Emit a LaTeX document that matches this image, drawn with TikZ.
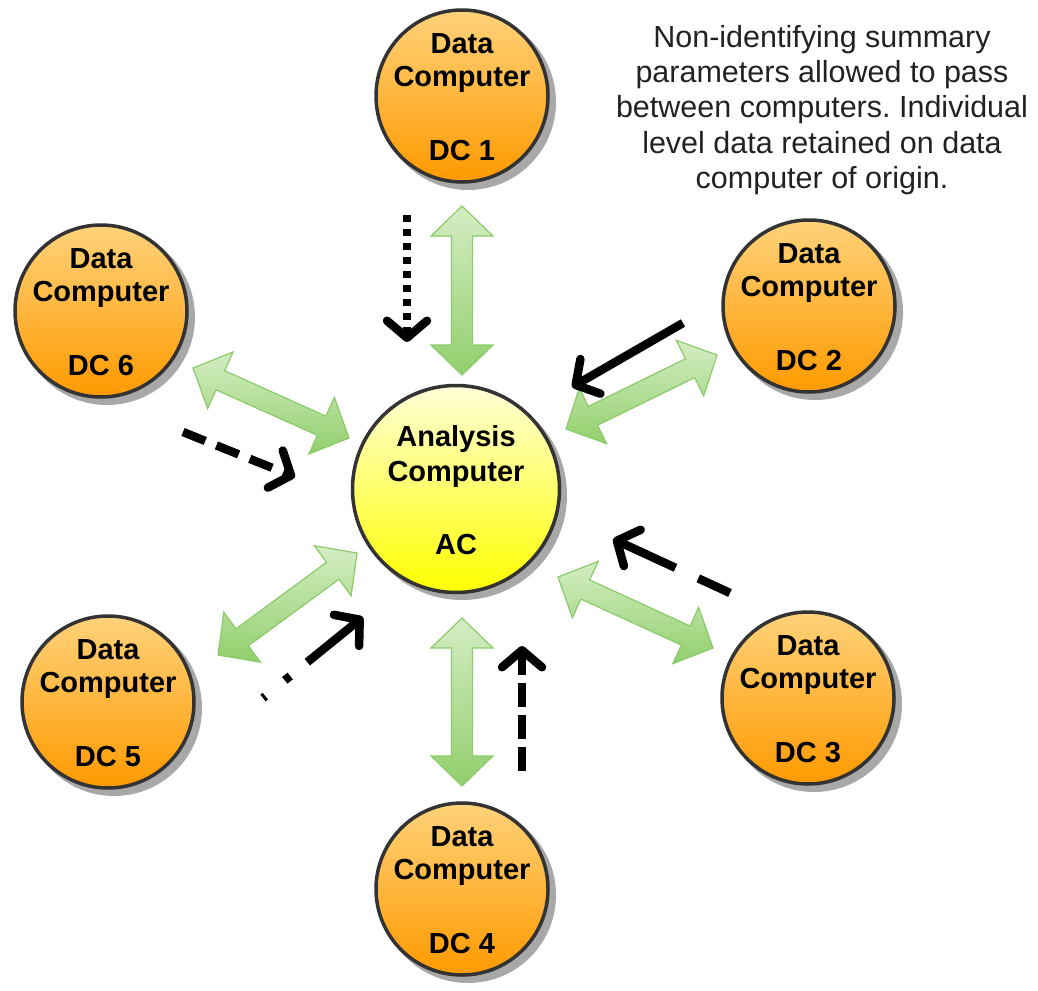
\documentclass[tikz,border=0pt]{standalone}
\usepackage{fontspec}
\setmainfont{Liberation Sans}
\usetikzlibrary{arrows.meta,calc}
\frenchspacing
\definecolor{orangeTop}{HTML}{FFD27A}
\definecolor{orangeBot}{HTML}{FF9A00}
\definecolor{yelTop}{HTML}{FFFFD8}
\definecolor{yelBot}{HTML}{FFFF00}
\definecolor{gLight}{HTML}{D4EDC4}
\definecolor{gDark}{HTML}{92CF6C}
\definecolor{gEdge}{HTML}{8CCB6A}
\definecolor{ringC}{HTML}{333333}
\definecolor{shadowC}{HTML}{A8A8A8}
\definecolor{noteC}{HTML}{222222}
\tikzset{
  dcnode/.style={circle, minimum size=172pt, draw=ringC, line width=3.5pt,
    top color=orangeTop, bottom color=orangeBot, inner sep=0pt},
  acnode/.style={circle, minimum size=207pt, draw=ringC, line width=3.5pt,
    top color=yelTop, bottom color=yelBot, inner sep=0pt},
  dclbl/.style={font=\bfseries\fontsize{29}{33}\selectfont, align=center, inner sep=0pt},
  aclbl/.style={font=\bfseries\fontsize{29}{35}\selectfont, align=center, inner sep=0pt},
  shadowsty/.style={fill=shadowC},
  garrowsty/.style={draw=gEdge, line width=1.2pt, top color=gLight, bottom color=gDark, line join=miter},
  blk/.style={line width=8.5pt, black, -{Straight Barb[length=17pt,width=40pt,round]}},
  notesty/.style={font=\fontsize{30.5}{35.25}\selectfont, align=center, text=noteC}
}
\newcommand\garrow[3]{%
  \coordinate (#1h1) at ($(#2)!30pt!(#3)$);
  \coordinate (#1h2) at ($(#3)!30pt!(#2)$);
  \path[garrowsty] (#2) -- ($(#1h1)!31pt!90:(#3)$) -- ($(#1h1)!10.5pt!90:(#3)$)
    -- ($(#1h2)!10.5pt!-90:(#2)$) -- ($(#1h2)!31pt!-90:(#2)$) -- (#3)
    -- ($(#1h2)!31pt!90:(#2)$) -- ($(#1h2)!10.5pt!90:(#2)$)
    -- ($(#1h1)!10.5pt!-90:(#3)$) -- ($(#1h1)!31pt!-90:(#3)$) -- cycle;
}
\begin{document}
\begin{tikzpicture}[x=1pt,y=-1pt]
\useasboundingbox (0,0) rectangle (1038,990);
% centres
\coordinate (c1) at (462,96);
\coordinate (c2) at (809,306);
\coordinate (c3) at (808,698);
\coordinate (c4) at (462,889);
\coordinate (c5) at (108,702);
\coordinate (c6) at (101,311);
\coordinate (cac) at (456,489);
% shadows
\foreach \c in {c1,c2,c3,c4,c5,c6}{\fill[shadowsty] ($(\c)+(6,6)$) circle[radius=88];}
\fill[shadowsty] ($(cac)+(6,6)$) circle[radius=105];
% circles
\node[dcnode] (dc1) at (c1) {};
\node[dcnode] (dc2) at (c2) {};
\node[dcnode] (dc3) at (c3) {};
\node[dcnode] (dc4) at (c4) {};
\node[dcnode] (dc5) at (c5) {};
\node[dcnode] (dc6) at (c6) {};
\node[acnode] (ac) at (cac) {};
% labels
\node[dclbl] (t1) at ($(c1)+(0,1)$) {Data\\Computer\\[41pt]DC 1};
\node[dclbl] (t2) at ($(c2)+(0,1)$) {Data\\Computer\\[41pt]DC 2};
\node[dclbl] (t3) at ($(c3)+(0,1)$) {Data\\Computer\\[41pt]DC 3};
\node[dclbl] (t4) at ($(c4)+(0,1)$) {Data\\Computer\\[41pt]DC 4};
\node[dclbl] (t5) at ($(c5)+(0,1)$) {Data\\Computer\\[41pt]DC 5};
\node[dclbl] (t6) at ($(c6)+(0,1)$) {Data\\Computer\\[41pt]DC 6};
\node[aclbl] (tac) at ($(cac)+(0,1)$) {Analysis\\Computer\\[38pt]AC};
% green double arrows
\coordinate (g1a) at (462,206); \coordinate (g1b) at (462,375);
\coordinate (g4a) at (462,618); \coordinate (g4b) at (462,786);
\coordinate (g2a) at (566,429); \coordinate (g2b) at (717,355);
\coordinate (g3a) at (558,577); \coordinate (g3b) at (713,648);
\coordinate (g5a) at (218,655); \coordinate (g5b) at (357,553);
\coordinate (g6a) at (193,368); \coordinate (g6b) at (349,438);
\garrow{ga1}{g1a}{g1b}
\garrow{ga4}{g4a}{g4b}
\garrow{ga2}{g2a}{g2b}
\garrow{ga3}{g3a}{g3b}
\garrow{ga5}{g5a}{g5b}
\garrow{ga6}{g6a}{g6b}
% black arrows
\coordinate (b1s) at (407,215); \coordinate (b1e) at (407,342);
\coordinate (b2s) at (683,323); \coordinate (b2e) at (572,387);
\coordinate (b3s) at (730,593); \coordinate (b3e) at (613,539);
\coordinate (b4s) at (522,771); \coordinate (b4e) at (522,646);
\coordinate (b5s) at (263,698); \coordinate (b5e) at (363,617);
\coordinate (b6s) at (183,432); \coordinate (b6e) at (295,477);
\draw[blk, dash pattern=on 7pt off 7pt] (b1s) -- (b1e);
\draw[blk] (b2s) -- (b2e);
\draw[blk, dash pattern=on 35pt off 25pt on 200pt] (b3s) -- (b3e);
\draw[blk, dash pattern=on 24pt off 8pt] (b4s) -- (b4e);
\draw[blk, dash pattern=on 3pt off 25pt on 7pt off 22pt on 200pt] (b5s) -- (b5e);
\draw[blk, dash pattern=on 24pt off 12pt] (b6s) -- (b6e);
% note
\node[notesty] (note) at (822,110) {Non-identifying summary\\parameters allowed to pass\\between computers. Individual\\level data retained on data\\computer of origin.};
\end{tikzpicture}
\end{document}
